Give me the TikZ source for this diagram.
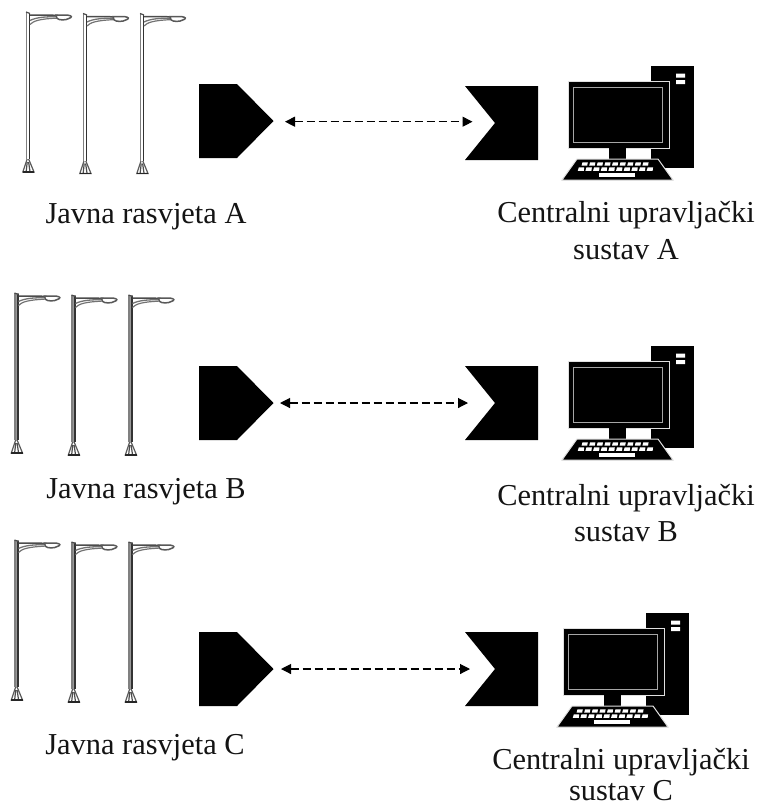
\documentclass[tikz,border=0pt]{standalone}
\usepackage{fontspec}
\setmainfont{Liberation Serif}
\usetikzlibrary{arrows.meta}
\tikzset{
  label text/.style={font=\fontsize{30.4}{30}\selectfont,anchor=base,inner sep=0pt,text=black!92},
  link/.style={line width=1.1pt,dash pattern=on 8pt off 4pt,{Triangle[length=10pt,width=10pt]}-{Triangle[length=10pt,width=10pt]}},
  pics/lamp/.style={code={
    % base
    \draw[black!65,line width=1.2pt,fill=white] (1.8,145) -- (-3.2,160) -- (8,160) -- cycle;
    \draw[black!70,line width=1.2pt] (1.2,150) -- (0.2,159.5) (2.6,150) -- (4,159.5);
    \draw[black!85,line width=1.4pt] (-3.2,160) -- (8,160);
    % pole
    \fill[#1] (0,0) rectangle (4,147);
    \draw[black!50,line width=1.4pt] (0.4,0) -- (0.4,147);
    \draw[black!80,line width=1.4pt] (3.4,1) -- (3.4,147);
    \draw[black!70,line width=1.2pt] (0,0) -- (4,1.5);
    % arm
    \draw[black!70,line width=1.5pt] (4,3) -- (20,3) -- (32,3.4);
    \draw[black!55,line width=1.3pt] (4,8.5) .. controls (10,5.4) and (20,4.4) .. (32,4.8);
    \draw[black!55,line width=1.2pt] (4,12.5) .. controls (7,9) and (14,6.8) .. (30,6.2);
    % head
    \draw[black!65,line width=1.5pt,fill=white] (30,3.2) -- (42,3.2) .. controls (46,3.6) and (46.5,5.4) .. (43,6.4) .. controls (40,8.4) and (33,8.4) .. (31,6.4) -- cycle;
  }},
  pics/computer/.style={code={
    % tower
    \draw[black,line width=0.3pt,fill=black] (651,66) rectangle (693,167);
    \fill[white] (676,73.5) rectangle (685,77.5) (676,80) rectangle (685,84);
    % monitor
    \draw[black!12,line width=1pt,fill=black] (568,81) rectangle (669,148);
    \draw[black!35,line width=1pt] (573.5,87) rectangle (662.5,142);
    \fill[black] (609,148) rectangle (626,159);
    % keyboard
    \draw[black!12,line width=1pt,fill=black] (577,159) -- (658,159) -- (673,180) -- (562,180) -- cycle;
    \foreach \k in {0,...,8} {
      \fill[white] ({582.5+\k*7.6},162.3) -- ({587.8+\k*7.6},162.3) -- ({587.2+\k*7.6},165.6) -- ({581.6+\k*7.6},165.6) -- cycle;
    }
    \foreach \k in {0,...,9} {
      \fill[white] ({578.8+\k*7.65},167.4) -- ({584.2+\k*7.65},167.4) -- ({583.8+\k*7.65},170.8) -- ({577.8+\k*7.65},170.8) -- cycle;
    }
    \fill[white] (599,173.2) rectangle (635,176.6);
  }},
  pics/sender/.style={code={
    \fill[black] (199,0) -- (237,0) -- (273.5,37) -- (237,74) -- (199,74) -- cycle;
  }},
  pics/receiver/.style={code={
    \fill[black] (465,0) -- (538,0) -- (538,74) -- (465,74) -- (495,37) -- cycle;
  }}
}
\begin{document}
\begin{tikzpicture}[x=1pt,y=-1pt]
\useasboundingbox[fill=white] (0,0) rectangle (759,807);
% Set A
\pic at (26,12) {lamp=white};
\pic at (83,13.5) {lamp=white};
\pic at (140,13.5) {lamp=white};
\pic at (0,84) {sender};
\pic at (0,86) {receiver};
\pic at (0,0) {computer};
\coordinate (a1) at (285,121.7);
\coordinate (a2) at (472.5,121.7);
\draw[link] (a1) -- (a2);
\node[label text] (ta) at (146,223) {Javna rasvjeta A};
\node[label text] (ca) at (626,222) {Centralni upravljački};
\node[label text] (sa) at (626,259) {sustav A};
% Set B
\pic at (14.5,293) {lamp=black!40};
\pic at (71.5,295) {lamp=black!40};
\pic at (128.5,295) {lamp=black!40};
\pic at (0,366) {sender};
\pic at (0,366) {receiver};
\pic at (0,280) {computer};
\coordinate (b1) at (280,403);
\coordinate (b2) at (468,403);
\draw[link] (b1) -- (b2);
\node[label text] (tb) at (146,498) {Javna rasvjeta B};
\node[label text] (cb) at (626,505) {Centralni upravljački};
\node[label text] (sb) at (626,541) {sustav B};
% Set C
\pic at (14.5,540) {lamp=black!40};
\pic at (71.5,542) {lamp=black!40};
\pic at (128.5,542) {lamp=black!40};
\pic at (0,632) {sender};
\pic at (0,632) {receiver};
\pic at (-5,547) {computer};
\coordinate (c1) at (281,669);
\coordinate (c2) at (470,669);
\draw[link] (c1) -- (c2);
\node[label text] (tc) at (145,754) {Javna rasvjeta C};
\node[label text] (cc) at (621,769) {Centralni upravljački};
\node[label text] (sc) at (621,800) {sustav C};
\end{tikzpicture}
\end{document}
